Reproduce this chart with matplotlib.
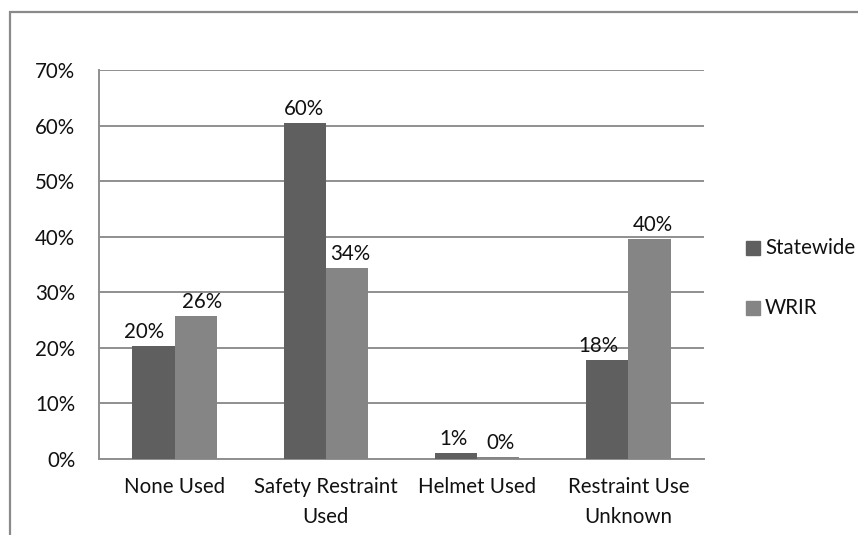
import matplotlib.pyplot as plt
from matplotlib.patches import Rectangle
import numpy as np

categories = ['None Used', 'Safety Restraint\nUsed', 'Helmet Used', 'Restraint Use\nUnknown']
statewide = [20.3, 60.4, 1.1, 17.8]
wrir = [25.7, 34.4, 0.3, 39.5]
series_names = ['Statewide', 'WRIR']

dark = '#5f5f5f'
light = '#858585'
grid_col = '#8f8f8f'

plt.rcParams['font.family'] = ['Lato', 'DejaVu Sans']
fs = 14.8

fig = plt.figure(figsize=(8.58, 5.35), dpi=100)

# outer frame around the chart (cut off at right and bottom)
fig.patches.append(Rectangle((10 / 858, -0.05), 1.0, 1 - 12 / 535 + 0.05,
                             transform=fig.transFigure, fill=False,
                             edgecolor='#8a8a8a', linewidth=1.6))

ax = fig.add_axes([99 / 858, 76 / 535, 605 / 858, 389 / 535])

x = np.arange(len(categories))
w = 0.28
b1 = ax.bar(x - w / 2, statewide, w, color=dark, zorder=3)
b2 = ax.bar(x + w / 2, wrir, w, color=light, zorder=3)

# value labels, nudged sideways so neighbouring labels don't collide
nudge = {0: [-9, -1, -2, -9], 1: [6, 3, 2, 3]}
for k, (bars, vals) in enumerate(((b1, statewide), (b2, wrir))):
    for j, (bar, v) in enumerate(zip(bars, vals)):
        ax.annotate(f'{v:.0f}%', (bar.get_x() + bar.get_width() / 2, v),
                    xytext=(nudge[k][j], 4), textcoords='offset pixels',
                    ha='center', va='bottom', fontsize=fs, color='#111111')

ax.set_xlim(-0.5, len(categories) - 0.5)
ax.set_ylim(0, 70)
ax.set_yticks(range(0, 71, 10))
ax.set_yticklabels([f'{t}%' for t in range(0, 71, 10)], fontsize=fs, color='#111111')
ax.set_xticks(x)
ax.set_xticklabels(categories, fontsize=fs, color='#111111', linespacing=1.6)
ax.tick_params(length=0, pad=17, axis='y')
ax.tick_params(length=0, pad=13, axis='x')
ax.yaxis.grid(True, color=grid_col, linewidth=1.4, zorder=0)
for s in ['top', 'right']:
    ax.spines[s].set_visible(False)
for s in ['left', 'bottom']:
    ax.spines[s].set_color(grid_col)
    ax.spines[s].set_linewidth(1.4)

# legend: square swatch + label, laid out in figure pixels
W, H = 858, 535
for i, (name, col) in enumerate(zip(series_names, [dark, light])):
    yc = 248 + 60 * i
    fig.patches.append(Rectangle((746 / W, 1 - (yc + 7) / H), 14 / W, 14 / H,
                                 transform=fig.transFigure, color=col))
    fig.text(765 / W, 1 - yc / H, name, fontsize=fs, color='#111111',
             ha='left', va='center')

fig.savefig('out.png', dpi=100)
